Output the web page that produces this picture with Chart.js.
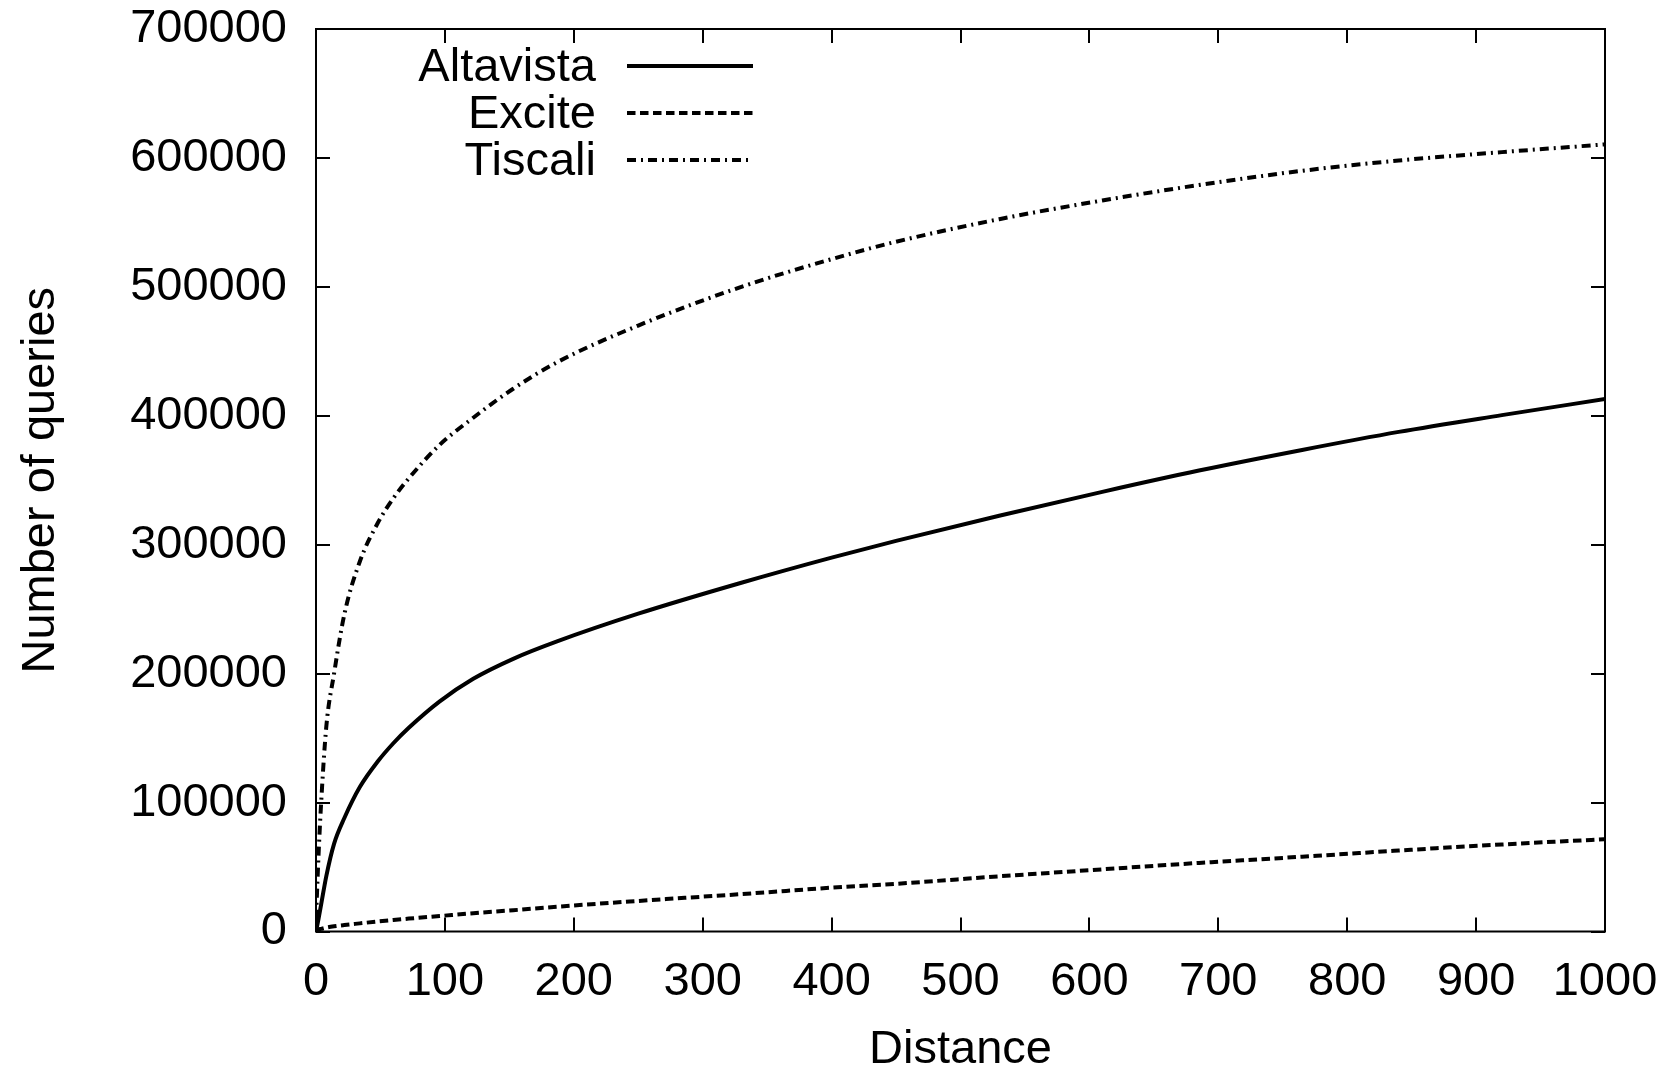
<!DOCTYPE html>
<html><head><meta charset="utf-8">
<script src="https://cdn.jsdelivr.net/npm/chart.js@4"></script>
<style>html,body{margin:0;padding:0;background:#fff;}#wrap{width:1677px;height:1069px;}</style>
</head><body><div id="wrap"><canvas id="c" width="1677" height="1069"></canvas></div>
<script>
// Data
const distances = [0, 2, 4, 8, 14, 22, 34, 48, 60, 72, 96, 122, 153, 187, 250, 330, 400, 450, 530, 610, 685, 765, 840, 920, 1000];
const altavista = [0, 10000, 21000, 43000, 68000, 88000, 112000, 132000, 146000, 158000, 178500, 196000, 211500, 225000, 246500, 270500, 290000, 303000, 322500, 341000, 357500, 373500, 387500, 400500, 413000];
const excite    = [0, 1500, 2000, 3000, 4000, 5000, 6300, 7800, 8900, 10000, 12000, 14200, 16500, 19200, 23700, 29000, 34000, 37000, 42800, 48200, 53200, 58000, 62800, 67500, 71600];
const tiscali   = [10000, 60000, 100000, 159000, 200000, 246000, 287000, 317000, 336000, 351500, 377500, 398500, 421000, 441500, 470000, 500000, 521500, 535000, 552500, 567000, 579000, 590000, 598000, 604500, 610500];
const seriesNames = ['Altavista', 'Excite', 'Tiscali'];
const xLabel = 'Distance';
const yLabel = 'Number of queries';

const FONT = '"Liberation Sans", Arial, Helvetica, sans-serif';
const FS = 47;
const toPts = arr => distances.map((d, i) => ({x: d, y: arr[i]}));

const framePlugin = {
  id: 'frame',
  afterDatasetsDraw(chart) {
    const {ctx, chartArea: a, scales: {x, y}} = chart;
    ctx.save();
    ctx.strokeStyle = '#000';
    ctx.lineWidth = 2;
    ctx.strokeRect(a.left, a.top, a.right - a.left, a.bottom - a.top);
    const L = 14;
    ctx.beginPath();
    x.ticks.forEach(t => {
      const px = Math.round(x.getPixelForValue(t.value));
      ctx.moveTo(px, a.bottom); ctx.lineTo(px, a.bottom - L);
      ctx.moveTo(px, a.top); ctx.lineTo(px, a.top + L);
    });
    y.ticks.forEach(t => {
      const py = Math.round(y.getPixelForValue(t.value));
      ctx.moveTo(a.left, py); ctx.lineTo(a.left + L, py);
      ctx.moveTo(a.right, py); ctx.lineTo(a.right - L, py);
    });
    ctx.stroke();
    ctx.restore();
  }
};

const keyPlugin = {
  id: 'key',
  afterDraw(chart) {
    const ctx = chart.ctx;
    const textRight = 596, lineL = 627, lineR = 753, row0 = 66, rowH = 47;
    ctx.save();
    ctx.font = FS + 'px ' + FONT;
    ctx.fillStyle = '#000';
    ctx.textAlign = 'right';
    ctx.textBaseline = 'middle';
    chart.data.datasets.forEach((ds, i) => {
      const yy = row0 + i * rowH;
      ctx.fillText(ds.label, textRight, yy + 2);
      ctx.beginPath();
      ctx.setLineDash(ds.borderDash || []);
      ctx.lineWidth = ds.borderWidth;
      ctx.strokeStyle = ds.borderColor;
      ctx.lineCap = 'butt';
      ctx.moveTo(lineL, yy); ctx.lineTo(lineR, yy);
      ctx.stroke();
    });
    ctx.restore();
  }
};

function noPad(s) { s.paddingLeft = 0; s.paddingRight = 0; s.paddingTop = 0; s.paddingBottom = 0; }

new Chart(document.getElementById('c'), {
  type: 'line',
  data: {
    datasets: [
      {label: seriesNames[0], data: toPts(altavista), borderColor: '#000', borderWidth: 4, borderDash: [], pointRadius: 0, cubicInterpolationMode: 'monotone', fill: false},
      {label: seriesNames[1], data: toPts(excite), borderColor: '#000', borderWidth: 4, borderDash: [8.5, 4.5], pointRadius: 0, cubicInterpolationMode: 'monotone', fill: false},
      {label: seriesNames[2], data: toPts(tiscali), borderColor: '#000', borderWidth: 4, borderDash: [9, 5, 2, 5], pointRadius: 0, cubicInterpolationMode: 'monotone', fill: false}
    ]
  },
  options: {
    responsive: false,
    animation: false,
    devicePixelRatio: 1,
    layout: {padding: {top: 29, right: 72, left: 0, bottom: 0}},
    plugins: {legend: {display: false}, tooltip: {enabled: false}},
    scales: {
      x: {
        type: 'linear', min: 0, max: 1000,
        grid: {display: false, drawTicks: false},
        border: {display: false},
        ticks: {stepSize: 100, color: '#000', padding: 22, maxRotation: 0, autoSkip: false, font: {family: FONT, size: FS}, callback: v => String(v)},
        title: {display: true, text: xLabel, color: '#000', padding: 0, font: {family: FONT, size: FS, lineHeight: 0.8}},
        afterFit(s) { s.height = 137.5; noPad(s); }
      },
      y: {
        type: 'linear', min: 0, max: 700000,
        grid: {display: false, drawTicks: false},
        border: {display: false},
        ticks: {stepSize: 100000, color: '#000', padding: 29, autoSkip: false, font: {family: FONT, size: FS}, callback: v => String(v)},
        title: {display: true, text: yLabel, color: '#000', padding: {top: 13, bottom: 0}, font: {family: FONT, size: FS, lineHeight: 1.2}},
        afterFit(s) { s.width = 316; noPad(s); }
      }
    }
  },
  plugins: [framePlugin, keyPlugin]
});
</script>
</body></html>
